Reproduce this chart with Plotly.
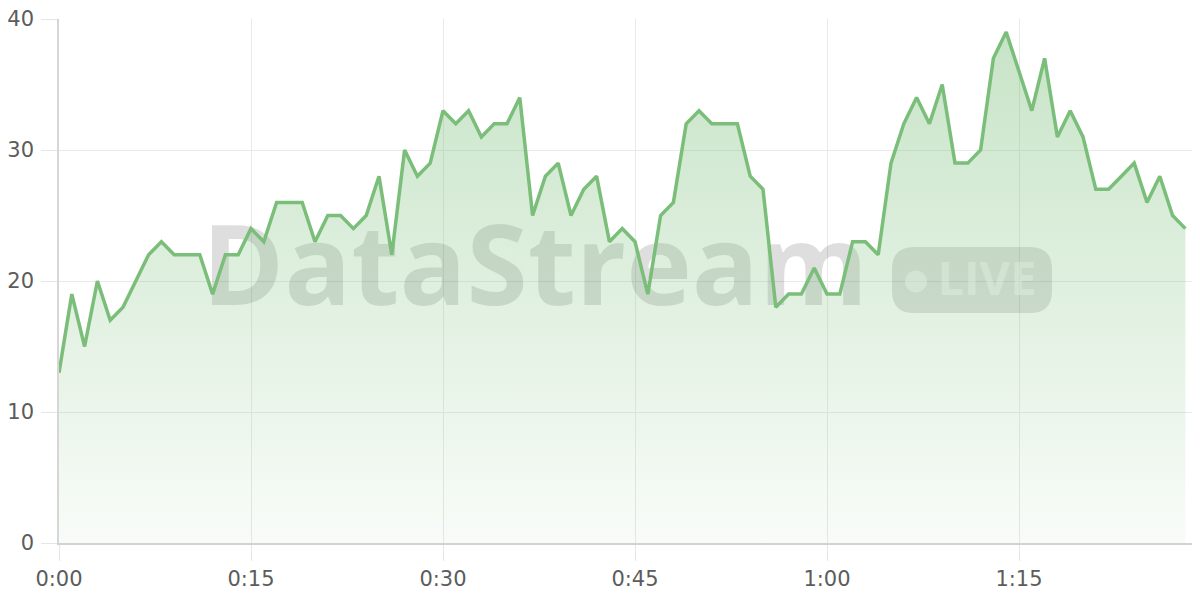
import plotly.graph_objects as go

minutes = list(range(0, 89))
values = [13, 19, 15, 20, 17, 18, 20, 22, 23, 22,
          22, 22, 19, 22, 22, 24, 23, 26, 26, 26,
          23, 25, 25, 24, 25, 28, 22, 30, 28, 29,
          33, 32, 33, 31, 32, 32, 34, 25, 28, 29,
          25, 27, 28, 23, 24, 23, 19, 25, 26, 32,
          33, 32, 32, 32, 28, 27, 18, 19, 19, 21,
          19, 19, 23, 23, 22, 29, 32, 34, 32, 35,
          29, 29, 30, 37, 39, 36, 33, 37, 31, 33,
          31, 27, 27, 28, 29, 26, 28, 25, 24]
tick_vals = [0, 15, 30, 45, 60, 75]
tick_text = ["0:00", "0:15", "0:30", "0:45", "1:00", "1:15"]
y_ticks = [0, 10, 20, 30, 40]

LINE = "rgb(122,190,122)"
WM = "rgba(0,0,0,0.13)"

fig = go.Figure()
fig.add_trace(go.Scatter(
    x=minutes, y=values, mode="lines",
    line=dict(color=LINE, width=3.5),
    fill="tozeroy",
    fillgradient=dict(type="vertical",
                      colorscale=[[0, "rgba(122,190,122,0.05)"],
                                  [1, "rgba(122,190,122,0.42)"]]),
    hoverinfo="skip", showlegend=False,
))

# pixel helpers in screen space (plot area: x 59.., y 19..543)
def px_x(p):
    return (p - 59) / 12.8
def px_y(p):
    return (543 - p) / 13.1

shapes = []
# watermark text
shapes.append(dict(
    type="rect", layer="between", xref="x", yref="y",
    x0=px_x(150), x1=px_x(920), y0=px_y(330), y1=px_y(210),
    line=dict(width=0), fillcolor="rgba(0,0,0,0)",
    label=dict(text="<b>DataStream</b>", textposition="middle center",
               font=dict(family="Open Sans", size=111, color=WM)),
))
# pill
x0, x1, y0, y1, r = 892, 1052, 247, 313, 22
path = (f"M {px_x(x0+r)},{px_y(y0)} L {px_x(x1-r)},{px_y(y0)} "
        f"Q {px_x(x1)},{px_y(y0)} {px_x(x1)},{px_y(y0+r)} "
        f"L {px_x(x1)},{px_y(y1-r)} Q {px_x(x1)},{px_y(y1)} {px_x(x1-r)},{px_y(y1)} "
        f"L {px_x(x0+r)},{px_y(y1)} Q {px_x(x0)},{px_y(y1)} {px_x(x0)},{px_y(y1-r)} "
        f"L {px_x(x0)},{px_y(y0+r)} Q {px_x(x0)},{px_y(y0)} {px_x(x0+r)},{px_y(y0)} Z")
shapes.append(dict(type="path", layer="between", xref="x", yref="y", path=path,
                   line=dict(width=0), fillcolor="rgba(0,0,0,0.12)"))
shapes.append(dict(type="circle", layer="between", xref="x", yref="y",
                   x0=px_x(905), x1=px_x(927), y0=px_y(292.5), y1=px_y(270.5),
                   line=dict(width=0), fillcolor="rgba(255,255,255,0.5)"))
shapes.append(dict(
    type="rect", layer="between", xref="x", yref="y",
    x0=px_x(934), x1=px_x(1040), y0=px_y(313), y1=px_y(247),
    line=dict(width=0), fillcolor="rgba(0,0,0,0)",
    label=dict(text="<b>LIVE</b>", textposition="middle center",
               font=dict(family="Open Sans", size=47, color="rgba(255,255,255,0.5)")),
))

# page body has an 8px margin, so margins are offset by 8px
fig.update_layout(
    width=1200, height=600,
    margin=dict(l=51, r=0, t=11, b=65),
    paper_bgcolor="white", plot_bgcolor="white",
    shapes=shapes,
    font=dict(family="DejaVu Sans", size=21, color="#5c5c5c"),
)
fig.update_xaxes(
    range=[0, (1200 - 51) / 12.8], tickvals=tick_vals, ticktext=tick_text,
    showgrid=True, gridcolor="#e9e9e9", gridwidth=1,
    ticks="outside", ticklen=16, tickcolor="#e6e6e6",
    showline=True, linecolor="#d2d2d2", linewidth=2,
    zeroline=False, automargin=False, ticklabeloverflow="allow",
)
fig.update_yaxes(
    range=[0, 40], tickvals=y_ticks,
    showgrid=True, gridcolor="#e9e9e9", gridwidth=1,
    ticks="outside", ticklen=16, tickcolor="#e6e6e6",
    showline=True, linecolor="#d6d6d6", linewidth=1.5,
    zeroline=False, automargin=False, ticklabelstandoff=3,
    ticklabeloverflow="allow",
)

fig.write_html("out.html")
